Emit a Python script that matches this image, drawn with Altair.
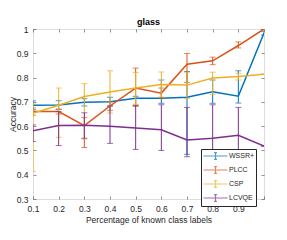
import altair as alt
import pandas as pd

# ---- data ----
x_vals = [0.1, 0.2, 0.3, 0.4, 0.5, 0.6, 0.7, 0.8, 0.9, 1.0]
series_names = ["WSSR+", "PLCC", "CSP", "LCVQE"]
series_colors = ["#0072BD", "#D95319", "#EDB120", "#7E2F8E"]

wssr_mean = [0.686, 0.687, 0.698, 0.700, 0.715, 0.715, 0.719, 0.742, 0.723, 0.983]
wssr_lo = [0.668, 0.669, 0.683, 0.683, 0.686, 0.694, 0.484, 0.694, 0.695, 0.975]
wssr_hi = [0.704, 0.705, 0.713, 0.719, 0.723, 0.790, 0.825, 0.790, 0.828, 0.991]

plcc_mean = [0.660, 0.660, 0.602, 0.683, 0.757, 0.736, 0.855, 0.869, 0.932, 1.000]
plcc_lo = [0.645, 0.650, 0.512, 0.665, 0.683, 0.715, 0.780, 0.853, 0.922, 1.000]
plcc_hi = [0.675, 0.670, 0.635, 0.700, 0.839, 0.757, 0.899, 0.884, 0.947, 1.000]

csp_mean = [0.653, 0.686, 0.722, 0.741, 0.757, 0.771, 0.769, 0.798, 0.804, 0.814]
csp_lo = [0.414, 0.554, 0.547, 0.654, 0.690, 0.720, 0.713, 0.731, 0.790, 0.814]
csp_hi = [0.691, 0.757, 0.775, 0.828, 0.821, 0.823, 0.822, 0.822, 0.818, 0.814]

lcvqe_mean = [0.581, 0.603, 0.604, 0.600, 0.592, 0.585, 0.543, 0.550, 0.562, 0.518]
lcvqe_lo = [0.537, 0.520, 0.550, 0.529, 0.504, 0.500, 0.474, 0.410, 0.447, 0.518]
lcvqe_hi = [0.605, 0.660, 0.655, 0.683, 0.683, 0.688, 0.677, 0.688, 0.677, 0.518]

x_ticks = [0.1, 0.2, 0.3, 0.4, 0.5, 0.6, 0.7, 0.8, 0.9, 1.0]
y_ticks = [0.3, 0.4, 0.5, 0.6, 0.7, 0.8, 0.9, 1.0]

chart_title = "glass"
x_title = "Percentage of known class labels"
y_title = "Accuracy"

series_data = [
    (series_names[0], wssr_mean, wssr_lo, wssr_hi),
    (series_names[1], plcc_mean, plcc_lo, plcc_hi),
    (series_names[2], csp_mean, csp_lo, csp_hi),
    (series_names[3], lcvqe_mean, lcvqe_lo, lcvqe_hi),
]

FONT = "Liberation Sans"
TXT = "#262626"

xs = alt.Scale(domain=[0.1, 1.0], nice=False, zero=False)
ys = alt.Scale(domain=[0.3, 1.0], nice=False, zero=False)
cs = alt.Scale(domain=series_names, range=series_colors)

legend_path = "M-2.53,0H2.53M0,-0.7V0.7M-0.3,-0.7H0.3M-0.3,0.7H0.3"
leg = alt.Legend(
    title=None, orient="none", legendX=168, legendY=120,
    padding=1.5, symbolType=legend_path, symbolSize=90, symbolOffset=7.5,
    labelOffset=8, rowPadding=1, labelFont=FONT, labelFontSize=7,
    labelColor=TXT, strokeColor=TXT, fillColor="white",
    symbolStrokeWidth=1.2, symbolFillColor="transparent",
    labelExpr="datum.label + '\u00a0\u00a0\u00a0\u00a0\u00a0\u00a0'",
)
color_enc = alt.Color("series:N", scale=cs, legend=leg)

main_x_axis = alt.Axis(
    orient="bottom", values=x_ticks, title=x_title,
    labelExpr="datum.value > 0.95 ? '' : format(datum.value, '.1f')",
    tickSize=3, offset=-3, domain=False, grid=False, labelPadding=5,
    titlePadding=3, labelFlush=False, labelOverlap=False,
    labelFont=FONT, labelFontSize=8.5, labelColor=TXT,
    titleFont=FONT, titleFontSize=8.5, titleFontWeight="normal", titleColor=TXT,
    tickColor=TXT, tickWidth=0.5,
)
main_y_axis = alt.Axis(
    orient="left", values=y_ticks, title=y_title,
    labelExpr="datum.value > 0.99 ? '1' : format(datum.value, '.1f')",
    tickSize=3, offset=-3, domain=False, grid=False, labelPadding=5,
    titlePadding=-1, labelFlush=False, labelOverlap=False,
    labelFont=FONT, labelFontSize=8.5, labelColor=TXT,
    titleFont=FONT, titleFontSize=8.5, titleFontWeight="normal", titleColor=TXT,
    tickColor=TXT, tickWidth=0.5,
)
aux_x_axis = alt.Axis(
    orient="top", values=x_ticks, title=None, labels=False,
    tickSize=3, offset=-3, domain=False, grid=False,
    tickColor=TXT, tickWidth=0.5,
)
aux_y_axis = alt.Axis(
    orient="right", values=y_ticks, title=None, labels=False,
    tickSize=3, offset=-3, domain=False, grid=False,
    tickColor=TXT, tickWidth=0.5,
)

layers = []
for i, (name, mean, lo, hi) in enumerate(series_data):
    df = pd.DataFrame({"x": x_vals, "mean": mean, "lo": lo, "hi": hi,
                       "series": [name] * len(x_vals)})
    caps = pd.DataFrame({"x": x_vals + x_vals, "v": lo + hi,
                         "series": [name] * (2 * len(x_vals))})
    rule = alt.Chart(df).mark_rule(strokeWidth=1, clip=True).encode(
        x=alt.X("x:Q", scale=xs, axis=None),
        y=alt.Y("lo:Q", scale=ys, axis=None),
        y2="hi:Q",
        color=color_enc,
    )
    tick = alt.Chart(caps).mark_tick(orient="horizontal", size=6, thickness=1, clip=True).encode(
        x=alt.X("x:Q", scale=xs, axis=None),
        y=alt.Y("v:Q", scale=ys, axis=None),
        color=color_enc,
    )
    if i == 0:
        xa, ya = main_x_axis, main_y_axis
    elif i == 1:
        xa, ya = aux_x_axis, aux_y_axis
    else:
        xa, ya = None, None
    line = alt.Chart(df).mark_line(strokeWidth=1.5, clip=True).encode(
        x=alt.X("x:Q", scale=xs, axis=xa),
        y=alt.Y("mean:Q", scale=ys, axis=ya),
        color=color_enc,
    )
    layers += [rule, tick, line]

chart = alt.layer(*layers).resolve_axis(
    x="independent", y="independent"
).resolve_scale(x="shared", y="shared", color="shared").properties(
    width=231, height=170,
    autosize=alt.AutoSizeParams(type="none"),
    padding={"left": 25, "top": 21, "right": 15, "bottom": 33},
    title=alt.Title(chart_title, font=FONT, fontSize=9, fontWeight="bold",
                    color="#000000", offset=3, dy=5, anchor="middle"),
).configure_view(
    stroke=TXT, strokeWidth=0.6, fill="white"
).configure(background="white")

chart.save("out.html", embed_options={"renderer": "svg", "actions": False})
